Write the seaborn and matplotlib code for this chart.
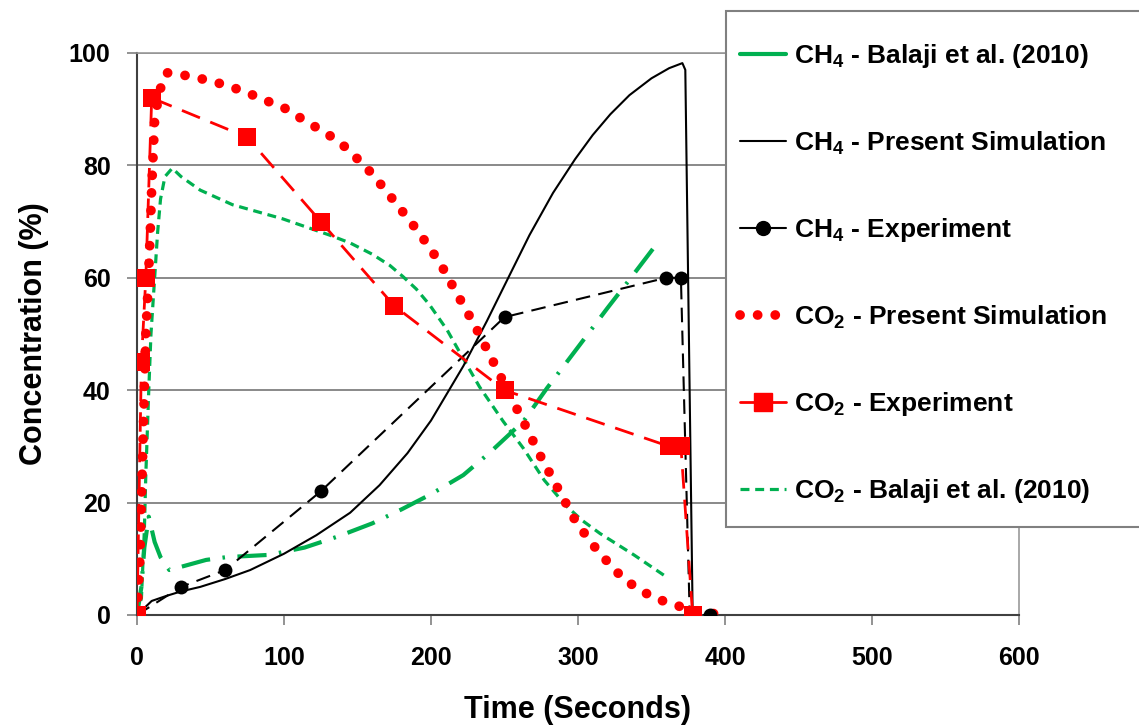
import numpy as np
import pandas as pd
import matplotlib
matplotlib.use("Agg")
import matplotlib.pyplot as plt
from matplotlib.lines import Line2D
from matplotlib.patches import Rectangle
import seaborn as sns

# ---------------- data ----------------
ch4_balaji_t = [0, 3, 5, 8, 12, 16, 22, 47, 61, 90, 114, 137, 160, 180, 200, 222, 240, 263, 279, 301, 320, 336, 352]
ch4_balaji_c = [0, 5, 12, 17.5, 13, 10.3, 8, 9.8, 10.3, 10.7, 12, 14, 16.3, 18.8, 21.5, 24.9, 28.9, 34.5, 40.4, 48, 54.6, 60, 65.5]

ch4_sim_t = [0, 4, 10, 20, 30, 43, 60, 77, 100, 122, 145, 165, 184, 200, 222, 238, 252, 267, 283, 298, 310, 322, 335, 350, 362, 371, 373, 378]
ch4_sim_c = [0, 1, 2.5, 3.4, 4.2, 5, 6.4, 8, 10.9, 14.2, 18.2, 23.1, 28.8, 34.6, 44.3, 52.3, 59.7, 67.6, 75.1, 81.1, 85.4, 89.1, 92.5, 95.5, 97.3, 98.2, 97, 0]

# experiment points; the 376 s vertex is where the dashed line meets the axis (no marker there)
ch4_exp_t = [0, 30, 60, 125, 250, 360, 370, 376, 390]
ch4_exp_c = [0, 5, 8, 22, 53, 60, 60, 0, 0]
ch4_exp_marked = [0, 1, 2, 3, 4, 5, 6, 8]

co2_sim_t = [0, 2, 3, 4, 5, 6, 7.5, 9, 10, 11, 12, 15, 20, 33, 44, 56, 68, 80, 90, 102, 112, 123, 133, 143,
             160, 177, 192, 206, 218, 230, 241.5, 252, 264, 275, 287, 299, 314, 331, 341.5, 352, 364, 375, 388, 400]
co2_sim_c = [0, 10, 20, 30, 40, 50, 58, 68, 76, 82, 88, 93, 96.5, 96, 95.4, 94.6, 93.6, 92.4, 91.3, 90, 88.3, 86.6, 85, 83,
             78.5, 73, 68, 62.7, 57, 51.4, 45.5, 40, 33.8, 28, 22.2, 16.4, 11.2, 6.4, 4.6, 3, 2, 1, 0.4, 0]

co2_exp_t = [0, 3, 6, 10, 75, 125, 175, 250, 362, 370, 378]
co2_exp_c = [0, 45, 60, 92, 85, 70, 55, 40, 30, 30, 0]

co2_balaji_t = [0, 3, 5, 6, 8, 9.5, 12, 14, 16, 19, 24, 30, 43, 65, 99, 131, 145, 160, 172, 181, 190, 199, 211, 222, 233, 249, 263, 277, 292, 303, 315, 338, 360]
co2_balaji_c = [0, 3, 15, 25, 40, 50, 60, 68, 74, 78, 79.5, 78, 75.6, 73, 70.5, 67.6, 66.2, 64.2, 62.2, 60.2, 58, 55.2, 50.7, 45.6, 40.6, 34.5, 29.6, 24, 19.4, 16.8, 14.5, 10.7, 6.8]

x_ticks = [0, 100, 200, 300, 400, 500, 600]
y_ticks = [0, 20, 40, 60, 80, 100]

labels = [
    r"CH$_4$ - Balaji et al. (2010)",
    r"CH$_4$ - Present Simulation",
    r"CH$_4$ - Experiment",
    r"CO$_2$ - Present Simulation",
    r"CO$_2$ - Experiment",
    r"CO$_2$ - Balaji et al. (2010)",
]

# ---------------- style ----------------
sns.set_theme(style="white")
plt.rcParams["font.family"] = ["Liberation Sans", "DejaVu Sans"]
plt.rcParams["font.weight"] = "bold"
plt.rcParams["text.color"] = "black"
plt.rcParams["axes.labelcolor"] = "black"
plt.rcParams["xtick.color"] = "black"
plt.rcParams["ytick.color"] = "black"
plt.rcParams["mathtext.fontset"] = "custom"
plt.rcParams["mathtext.rm"] = "Liberation Sans:bold"
plt.rcParams["mathtext.it"] = "Liberation Sans:bold"
plt.rcParams["mathtext.bf"] = "Liberation Sans:bold"
plt.rcParams["mathtext.default"] = "rm"

GREEN = "#00B050"
RED = "#FF0000"

W, H = 1139, 725
fig = plt.figure(figsize=(W / 100, H / 100), dpi=100)
ax = fig.add_axes([137 / W, 1 - 615 / H, (1019 - 137) / W, (615 - 53) / H])

def draw(t, c, **kw):
    sns.lineplot(x=np.array(t, float), y=np.array(c, float), ax=ax, sort=False,
                 estimator=None, legend=False, **kw)

draw(ch4_balaji_t, ch4_balaji_c, color=GREEN, linewidth=3.0,
     linestyle=(0, (7, 3, 0.6, 3)), dash_capstyle="butt", zorder=3)
draw(co2_balaji_t, co2_balaji_c, color=GREEN, linewidth=2.3,
     linestyle=(0, (2.8, 1.8)), zorder=3)
draw(ch4_sim_t, ch4_sim_c, color="black", linewidth=1.5, zorder=4)
draw(ch4_exp_t, ch4_exp_c, color="black", linewidth=1.5,
     linestyle=(0, (7, 4)), marker="o", markersize=10, markeredgewidth=0,
     markevery=ch4_exp_marked, zorder=5)
draw(co2_sim_t, co2_sim_c, color=RED, linewidth=7,
     linestyle=(0, (0.01, 1.8)), dash_capstyle="round", zorder=4)
draw(co2_exp_t, co2_exp_c, color=RED, linewidth=2.0,
     linestyle=(0, (7, 4)), marker="s", markersize=13, markeredgewidth=0, zorder=6)

ax.set_xlim(0, 600)
ax.set_ylim(0, 100)
ax.set_xticks(x_ticks)
ax.set_yticks(y_ticks)
ax.set_xticklabels([str(v) for v in x_ticks], fontsize=18, fontweight="bold")
ax.set_yticklabels([str(v) for v in y_ticks], fontsize=18, fontweight="bold")
ax.yaxis.grid(True, color="#808080", linewidth=1.3)
ax.xaxis.grid(False)
ax.set_axisbelow(True)
ax.tick_params(axis="both", which="major", direction="out", length=7, width=1.2,
               color="#808080", bottom=True, left=True)
ax.tick_params(axis="x", pad=15)
ax.tick_params(axis="y", pad=12)
for s in ["left", "bottom"]:
    ax.spines[s].set_color("#404040")
    ax.spines[s].set_linewidth(1.5)
for s in ["top", "right"]:
    ax.spines[s].set_color("#999999")
    ax.spines[s].set_linewidth(1.2)
ax.set_xlabel("Time (Seconds)", fontsize=22, fontweight="bold", labelpad=18)
ax.set_ylabel("Concentration (%)", fontsize=22, fontweight="bold", labelpad=14)

# legend box (extends past the right edge like the reference)
fig.patches.append(Rectangle((726 / W, 1 - 527 / H), 450 / W, (527 - 11) / H,
                             transform=fig.transFigure, facecolor="white",
                             edgecolor="#808080", linewidth=1.5, zorder=10))

handles = [
    Line2D([], [], color=GREEN, linewidth=3.0),
    Line2D([], [], color="black", linewidth=1.5),
    Line2D([], [], color="black", linewidth=1.5, marker="o", markersize=10),
    Line2D([], [], color=RED, linewidth=7, linestyle=(0, (0.01, 1.8)), dash_capstyle="round"),
    Line2D([], [], color=RED, linewidth=2.0, marker="s", markersize=13),
    Line2D([], [], color=GREEN, linewidth=2.3, linestyle=(0, (2.8, 1.8))),
]
leg = fig.legend(handles, labels, loc="upper left",
                 bbox_to_anchor=(740 / W, 1 - 42 / H),
                 bbox_transform=fig.transFigure,
                 prop={"weight": "bold", "size": 19},
                 frameon=False, handlelength=1.75, handletextpad=0.3,
                 labelspacing=2.25, borderpad=0, borderaxespad=0)
leg.set_zorder(11)

fig.savefig("out.png", dpi=100)
